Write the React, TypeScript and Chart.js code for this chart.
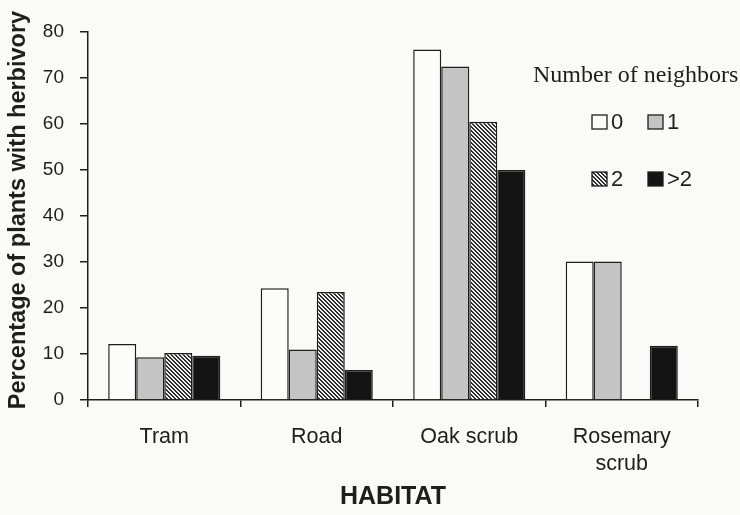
import React, { useEffect, useRef } from "react";
import { Chart, registerables } from "chart.js";

Chart.register(...registerables);

const habitats = ["Tram", "Road", "Oak scrub", "Rosemary scrub"];
const seriesNames = ["0", "1", "2", ">2"];
const neighbors0 = [12.2, 24.3, 76.2, 30.1];
const neighbors1 = [9.3, 11.0, 72.5, 30.1];
const neighbors2 = [10.2, 23.5, 60.5, null];
const neighborsGt2 = [9.6, 6.5, 50.0, 11.8];
const yTicks = [0, 10, 20, 30, 40, 50, 60, 70, 80];
const yTitle = "Percentage of plants with herbivory";
const xTitle = "HABITAT";
const legendTitle = "Number of neighbors";

const SANS = '"Liberation Sans", Arial, sans-serif';
const SERIF = '"Liberation Serif", "Times New Roman", serif';
const INK = "#1e1e1e";

function makeHatch(): CanvasPattern | string {
  const c = document.createElement("canvas");
  c.width = 4;
  c.height = 4;
  const ctx = c.getContext("2d");
  if (!ctx) return "#777";
  const img = ctx.createImageData(4, 4);
  for (let y = 0; y < 4; y++) {
    for (let x = 0; x < 4; x++) {
      const dark = (x - y + 8) % 4 < 2;
      const v = dark ? 45 : 240;
      const i = (y * 4 + x) * 4;
      img.data[i] = v;
      img.data[i + 1] = v;
      img.data[i + 2] = v;
      img.data[i + 3] = 255;
    }
  }
  ctx.putImageData(img, 0, 0);
  return ctx.createPattern(c, "repeat") || "#777";
}

export default function App() {
  const ref = useRef<HTMLCanvasElement>(null);

  useEffect(() => {
    if (!ref.current) return;
    const hatch = makeHatch();
    const fills: (string | CanvasPattern)[] = ["#fcfcfb", "#c4c4c4", hatch, "#141414"];
    const values = [neighbors0, neighbors1, neighbors2, neighborsGt2];

    const overlay = {
      id: "overlay",
      afterDraw(chart: any) {
        const ctx = chart.ctx as CanvasRenderingContext2D;
        ctx.save();
        ctx.fillStyle = INK;
        // y title
        ctx.save();
        ctx.translate(19, 210);
        ctx.rotate(-Math.PI / 2);
        ctx.font = `bold 23.5px ${SANS}`;
        ctx.textAlign = "center";
        ctx.textBaseline = "middle";
        ctx.fillText(yTitle, 0, 0);
        ctx.restore();
        // x title
        ctx.font = `bold 25px ${SANS}`;
        ctx.textAlign = "center";
        ctx.textBaseline = "middle";
        ctx.fillText(xTitle, 393, 497);
        // legend title
        ctx.font = `24px ${SERIF}`;
        ctx.textAlign = "left";
        ctx.textBaseline = "alphabetic";
        ctx.fillText(legendTitle, 533, 82);
        // legend items
        const pos = [
          [592, 115],
          [648, 115],
          [592, 172],
          [648, 172],
        ];
        ctx.font = `22px ${SANS}`;
        ctx.textBaseline = "middle";
        for (let i = 0; i < 4; i++) {
          const [bx, by] = pos[i];
          ctx.fillStyle = fills[i] as any;
          ctx.fillRect(bx, by, 15, 14);
          ctx.strokeStyle = INK;
          ctx.lineWidth = 1.3;
          ctx.strokeRect(bx, by, 15, 14);
          ctx.fillStyle = INK;
          ctx.fillText(seriesNames[i], bx + 19, by + 8);
        }
        ctx.restore();
      },
    };

    const chart = new Chart(ref.current, {
      type: "bar",
      data: {
        labels: habitats.map((h) => (h === "Rosemary scrub" ? ["Rosemary", "scrub"] : h)),
        datasets: values.map((v, i) => ({
          label: seriesNames[i],
          data: v,
          backgroundColor: fills[i] as any,
          borderColor: INK,
          borderWidth: 1.5,
          borderSkipped: "bottom",
          categoryPercentage: 0.735,
          barPercentage: 1,
        })),
      },
      options: {
        animation: false,
        responsive: false,
        maintainAspectRatio: false,
        layout: { padding: { top: 32, right: 42, left: 0, bottom: 0 } },
        plugins: {
          legend: { display: false },
          tooltip: { enabled: false },
          title: { display: false },
        },
        scales: {
          x: {
            offset: true,
            afterFit: (s: any) => {
              s.height = 115;
            },
            grid: {
              display: true,
              offset: true,
              drawOnChartArea: false,
              drawTicks: true,
              tickLength: 7,
              color: INK,
              lineWidth: 1.5,
            },
            border: { display: true, color: INK, width: 1.5 },
            ticks: {
              color: INK,
              font: { family: SANS, size: 21.5, lineHeight: 1.24 },
              padding: 17,
              maxRotation: 0,
              autoSkip: false,
            },
          },
          y: {
            min: 0,
            max: 80,
            afterFit: (s: any) => {
              s.width = 88;
            },
            afterBuildTicks: (s: any) => {
              s.ticks = yTicks.map((v) => ({ value: v }));
            },
            grid: {
              display: true,
              drawOnChartArea: false,
              drawTicks: true,
              tickLength: 8,
              color: INK,
              lineWidth: 1.5,
            },
            border: { display: true, color: INK, width: 1.5 },
            ticks: {
              color: INK,
              font: { family: SANS, size: 19 },
              padding: 16,
            },
          },
        },
      },
      plugins: [overlay],
    });
    return () => chart.destroy();
  }, []);

  return (
    <div style={{ position: "fixed", left: 0, top: 0, width: 740, height: 515, background: "#fafaf8" }}>
      <canvas ref={ref} width={740} height={515} style={{ width: 740, height: 515, display: "block" }} />
    </div>
  );
}
